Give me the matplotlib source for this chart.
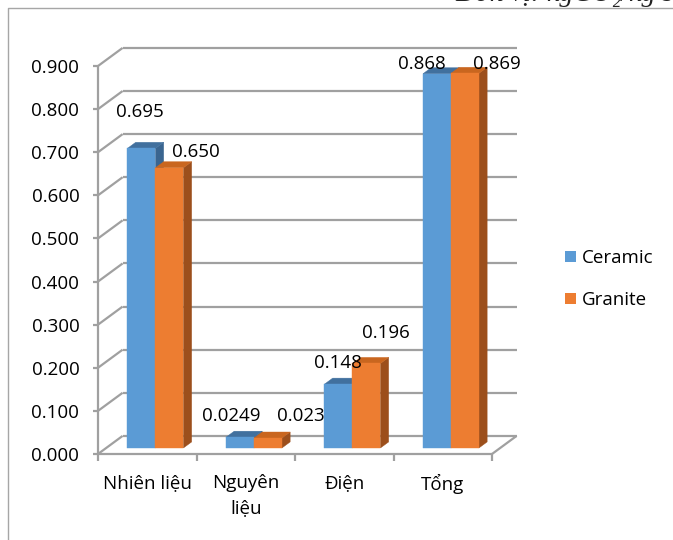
import matplotlib
matplotlib.use("Agg")
import matplotlib.pyplot as plt
from matplotlib.patches import Polygon, Rectangle
from matplotlib.lines import Line2D

plt.rcParams['font.family'] = ['Open Sans', 'DejaVu Sans']

# ---- data ----
categories = ["Nhiên liệu", "Nguyên\nliệu", "Điện", "Tổng"]
series_names = ["Ceramic", "Granite"]
ceramic = [0.695, 0.0249, 0.148, 0.868]
granite = [0.650, 0.023, 0.196, 0.869]
y_ticks = [0.0, 0.1, 0.2, 0.3, 0.4, 0.5, 0.6, 0.7, 0.8, 0.9]

# label offsets (category units, value units) from each bar's top
ceramic_label_offsets = [(0.063, 0.103), (-0.008, 0.068), (0.075, 0.068), (-0.069, 0.0415)]
granite_label_offsets = [(0.353, 0.055), (0.414, 0.070), (0.282, 0.089), (0.409, 0.0405)]

# ---- styling ----
W, H, DPI = 673, 540, 100
GRID = "#A0A0A0"
FACE = {"Ceramic": "#5B9BD5", "Granite": "#ED7D31"}
TOP = {"Ceramic": "#41709E", "Granite": "#C9661F"}
SIDE = {"Ceramic": "#3A6590", "Granite": "#9C4F1C"}
DX, DY = 0.25, 0.042        # depth of the 3-D box (x in categories, y in values)
BAR_W = 0.284               # width of each bar front face
FS = 13.5


def fmt(v):
    s = f"{v:.4f}".rstrip("0")
    head, tail = s.split(".")
    return head + "." + tail.ljust(3, "0")


fig = plt.figure(figsize=(W / DPI, H / DPI), dpi=DPI)
ax = fig.add_axes([98 / W, 86 / H, 394 / W, 388 / H])
ax.set_xlim(0, len(categories))
ax.set_ylim(0, 0.9)
ax.axis("off")

# outer frame (left and top edges)
fig.add_artist(Line2D([8 / W, 8 / W, 1.0], [0.0, 1 - 8 / H, 1 - 8 / H],
                      color="#A6A6A6", lw=1.0, transform=fig.transFigure))
# unit note at the top right (runs off the top edge of the page)
fig.text(455 / W, 1 - 1 / H, "Đơn vị: kgCO₂/kg sản phẩm", ha="left", va="baseline",
         fontsize=20, style="italic", family=["Liberation Serif", "DejaVu Serif"],
         color="#222222")

n = len(categories)
line_kw = dict(color=GRID, lw=1.6, clip_on=False, solid_capstyle="butt")

# back wall gridlines and side-wall diagonals
for v in y_ticks:
    ax.plot([DX, n + DX], [v + DY, v + DY], **line_kw)
    ax.plot([0, DX], [v, v + DY], **line_kw)
    ax.plot([-0.05, 0], [v, v], **line_kw)

# front value axis and floor
ax.plot([0, 0], [0, y_ticks[-1]], **line_kw)
ax.plot([0, n], [0, 0], **line_kw)
ax.plot([n, n + DX], [0, DY], **line_kw)
for i in range(n + 1):
    ax.plot([i, i], [0, -0.016], **line_kw)

# y tick labels
for v in y_ticks:
    ax.text(-0.19, v, f"{v:.3f}", ha="right", va="center_baseline", fontsize=FS,
            color="#000000", clip_on=False)

# category labels
for i, c in enumerate(categories):
    ax.text(i + 0.5, -0.047, c, ha="center", va="top", fontsize=FS,
            linespacing=1.45, clip_on=False)


def bar3d(x0, x1, v, name, z):
    f = 1 / 3   # bars sit in the middle third of the depth
    b = 2 / 3
    front = [(x0 + DX * f, DY * f), (x1 + DX * f, DY * f),
             (x1 + DX * f, v + DY * f), (x0 + DX * f, v + DY * f)]
    top = [(x0 + DX * f, v + DY * f), (x1 + DX * f, v + DY * f),
           (x1 + DX * b, v + DY * b), (x0 + DX * b, v + DY * b)]
    side = [(x1 + DX * f, DY * f), (x1 + DX * b, DY * b),
            (x1 + DX * b, v + DY * b), (x1 + DX * f, v + DY * f)]
    for pts, col in ((side, SIDE[name]), (top, TOP[name]), (front, FACE[name])):
        ax.add_patch(Polygon(pts, closed=True, facecolor=col, edgecolor=col,
                             lw=0.3, clip_on=False, zorder=z))


for i in range(n):
    c = i + 0.5
    bar3d(c - BAR_W, c, ceramic[i], "Ceramic", 3 + 2 * i)
    bar3d(c, c + BAR_W, granite[i], "Granite", 4 + 2 * i)

# data labels
for i in range(n):
    c = i + 0.5
    for vals, offs, xc in ((ceramic, ceramic_label_offsets, c - BAR_W / 2),
                           (granite, granite_label_offsets, c + BAR_W / 2)):
        dx, dy = offs[i]
        ax.text(xc + dx, vals[i] + dy, fmt(vals[i]), ha="center", va="center_baseline",
                fontsize=FS, zorder=20, clip_on=False)

# legend
for k, (name, yc) in enumerate(zip(series_names, (256, 298))):
    fig.add_artist(Rectangle((565 / W, 1 - (yc + 5.5) / H), 11 / W, 11 / H,
                             facecolor=FACE[name], edgecolor="none",
                             transform=fig.transFigure))
    fig.text(582 / W, 1 - yc / H, name, ha="left", va="center_baseline", fontsize=FS)

fig.savefig("out.png", dpi=DPI)
